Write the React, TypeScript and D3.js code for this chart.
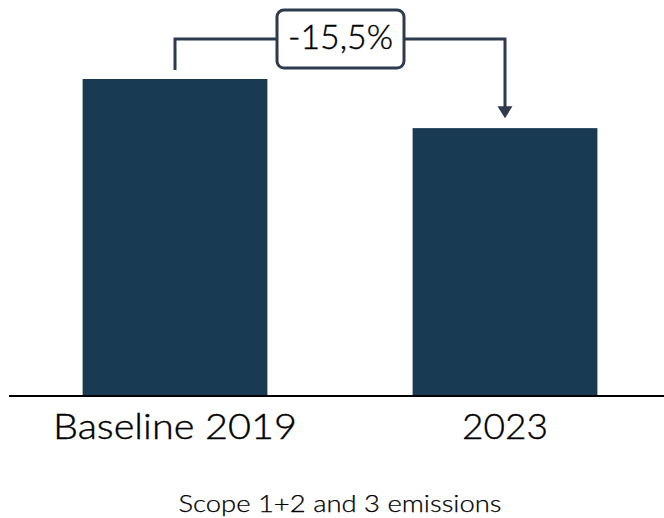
import React from "react";
import * as d3 from "d3";

const categories = ["Baseline 2019", "2023"];
const values = [100, 84.5];
const changeLabel = "-15,5%";
const xTitle = "Scope 1+2 and 3 emissions";

const W = 664;
const H = 518;

export default function App() {
  const x = d3.scaleBand<string>().domain(categories).range([10, 670]).paddingInner(0.44).paddingOuter(0.22);
  const y = d3.scaleLinear().domain([0, 100]).range([396, 79]);
  const bw = x.bandwidth();
  const c0 = (x(categories[0]) as number) + bw / 2;
  const c1 = (x(categories[1]) as number) + bw / 2;
  const top0 = y(values[0]);
  const top1 = y(values[1]);
  const lineY = 39;
  const boxX0 = 277, boxX1 = 404, boxY0 = 10, boxY1 = 68;
  const lineColor = "#2e3a4d";
  const tipY = top1 - 10;
  return (
    <svg width={W} height={H} style={{ position: "absolute", left: 0, top: 0, background: "#fff" }}>
      {categories.map((c, i) => (
        <rect key={c} x={x(c)} y={y(values[i])} width={bw} height={y(0) - y(values[i])} fill="#183a52" />
      ))}
      <line x1={9} x2={664} y1={396} y2={396} stroke="#000" strokeWidth={2} />
      {categories.map((c, i) => (
        <text key={c} x={(x(c) as number) + bw / 2} y={439} textAnchor="middle" fontFamily="Lato" fontWeight={300} fontSize={36}
          fill="#000" stroke="#000" strokeWidth={0.4} textLength={i === 0 ? 244 : 86} lengthAdjust="spacingAndGlyphs">{c}</text>
      ))}
      <text x={340} y={512} textAnchor="middle" fontFamily="Lato" fontWeight={300} fontSize={23} fill="#000"
        stroke="#000" strokeWidth={0.25} textLength={323} lengthAdjust="spacingAndGlyphs">{xTitle}</text>
      <path d={`M${c0},${top0 - 9} V${lineY} H${boxX0}`} fill="none" stroke={lineColor} strokeWidth={3} />
      <path d={`M${boxX1},${lineY} H${c1} V${tipY - 11}`} fill="none" stroke={lineColor} strokeWidth={3} />
      <path d={`M${c1 - 7.5},${tipY - 12} L${c1 + 7.5},${tipY - 12} L${c1},${tipY} Z`} fill={lineColor} />
      <rect x={boxX0} y={boxY0} width={boxX1 - boxX0} height={boxY1 - boxY0} rx={7} fill="#fff" stroke={lineColor} strokeWidth={3} />
      <text x={(boxX0 + boxX1) / 2} y={49} textAnchor="middle" fontFamily="Lato" fontWeight={300} fontSize={33} fill="#000"
        stroke="#000" strokeWidth={0.4} textLength={105} lengthAdjust="spacingAndGlyphs">{changeLabel}</text>
    </svg>
  );
}
